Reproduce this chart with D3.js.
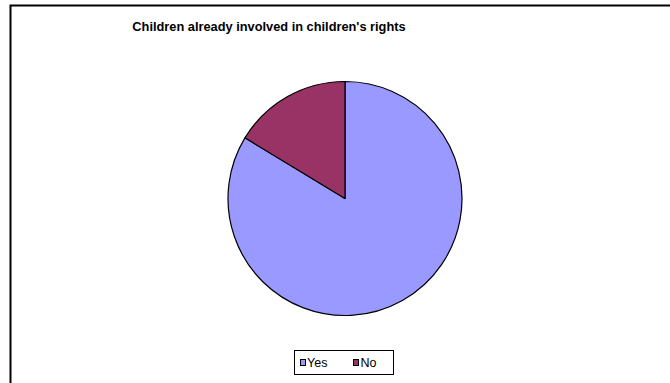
<!DOCTYPE html>
<html>
<head>
<meta charset="utf-8">
<script src="https://cdn.jsdelivr.net/npm/d3@7/dist/d3.min.js"></script>
<style>
  html, body { margin: 0; padding: 0; background: #fff; }
  svg { display: block; font-family: "Liberation Sans", Arial, sans-serif; }
</style>
</head>
<body>
<svg id="chart" width="670" height="383"></svg>
<script>
// Survey answers
const categories = ["Yes", "No"];
const values = [41, 8];
const colors = ["#9999FF", "#993366"];
const title = "Children already involved in children's rights";

const svg = d3.select("#chart");
const W = 670, H = 383;

svg.append("rect").attr("width", W).attr("height", H).attr("fill", "#fff");

// Chart frame (continues past the right and bottom edges)
svg.append("rect")
  .attr("x", 10.5).attr("y", 5.5)
  .attr("width", 700).attr("height", 400)
  .attr("fill", "none").attr("stroke", "#000").attr("stroke-width", 2);

svg.append("text")
  .attr("x", 269).attr("y", 31)
  .attr("text-anchor", "middle")
  .attr("font-size", 12.8).attr("font-weight", "bold")
  .text(title);

const cx = 345, cy = 198.5, r = 117;
const data = categories.map((c, i) => ({ c, v: values[i], color: colors[i] }));

const pie = d3.pie().value(d => d.v).sort(null);
const arc = d3.arc().innerRadius(0).outerRadius(r);

svg.append("g")
  .attr("transform", `translate(${cx},${cy})`)
  .selectAll("path")
  .data(pie(data))
  .join("path")
  .attr("d", arc)
  .attr("fill", d => d.data.color)
  .attr("stroke", "#000")
  .attr("stroke-width", 1.2)
  .attr("stroke-linejoin", "round");

// Legend
const legend = svg.append("g");
legend.append("rect")
  .attr("x", 294.5).attr("y", 350.5)
  .attr("width", 99).attr("height", 24)
  .attr("fill", "#fff").attr("stroke", "#000").attr("stroke-width", 1);

const items = [{ x: 300, tx: 307 }, { x: 353, tx: 360.5 }];
data.forEach((d, i) => {
  legend.append("rect")
    .attr("x", items[i].x + 0.5).attr("y", 359.5)
    .attr("width", 5).attr("height", 6)
    .attr("fill", d.color).attr("stroke", "#000").attr("stroke-width", 1);
  legend.append("text")
    .attr("x", items[i].tx).attr("y", 367)
    .attr("font-size", 12.5)
    .text(d.c);
});
</script>
</body>
</html>
